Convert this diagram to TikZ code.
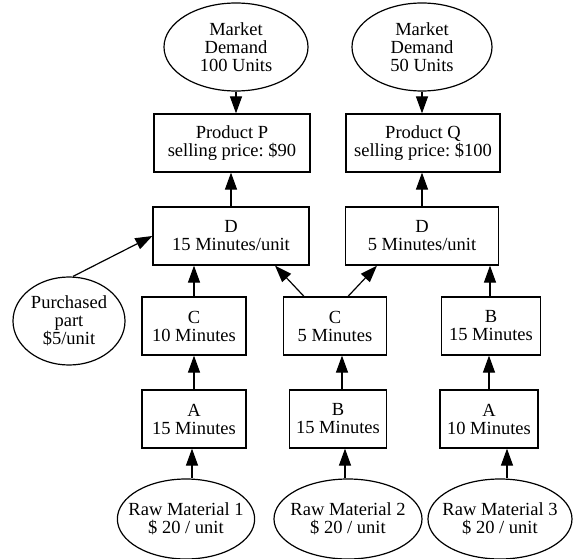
\documentclass[tikz,border=0pt]{standalone}
\usepackage{fontspec}
\setmainfont{Liberation Serif}
\usetikzlibrary{shapes.geometric,arrows.meta}
\frenchspacing
\begin{document}
\begin{tikzpicture}[x=1pt,y=-1pt,line width=1.2pt,
        font=\fontsize{18.5}{18}\selectfont,
        box/.style={draw,minimum height=58pt,align=center,inner sep=1pt},
        oval/.style={draw,ellipse,align=center,inner sep=0pt},
        rawmat/.style={oval,inner xsep=-9pt,minimum height=80pt},
        flow/.style={-{Triangle[length=17pt,width=12pt]}}]
    \useasboundingbox (0,0) rectangle (573,559);
    %% market demand
    \node[oval,minimum width=144pt,minimum height=88pt] (mdp) at (236,47) {Market\\Demand\\100 Units};
    \node[oval,minimum width=140pt,minimum height=88pt] (mdq) at (422,47) {Market\\Demand\\50 Units};
    %% products
    \node[box,minimum width=156pt] (pp) at (232,143) {Product P\\selling price: \$90};
    \node[box,minimum width=154pt] (pq) at (423,143) {Product Q\\selling price: \$100};
    %% step D
    \node[box,minimum width=156pt] (dp) at (231,236) {D\\15 Minutes/unit};
    \node[box,minimum width=153pt] (dq) at (422,236) {D\\5 Minutes/unit};
    \node[oval,minimum width=112pt,minimum height=88pt] (buy) at (69,321) {Purchased\\part\\\$5/unit};
    %% middle row
    \node[box,minimum width=104pt] (c1) at (194,326) {C\\10 Minutes};
    \node[box,minimum width=103pt] (c2) at (335,326) {C\\5 Minutes};
    \node[box,minimum width=99pt] (b2) at (491,326) {B\\15 Minutes};
    %% lower row
    \node[box,minimum width=104pt] (a1) at (194,419) {A\\15 Minutes};
    \node[box,minimum width=97pt] (b1) at (338,419) {B\\15 Minutes};
    \node[box,minimum width=98pt] (a3) at (489,419) {A\\10 Minutes};
    %% raw materials
    \node[rawmat,minimum width=136pt] (rm1) at (186,519) {Raw Material 1\\\$ 20 / unit};
    \node[rawmat,minimum width=148pt] (rm2) at (348,519) {Raw Material 2\\\$ 20 / unit};
    \node[rawmat,minimum width=144pt] (rm3) at (500,519) {Raw Material 3\\\$ 20 / unit};
    %% flows
    \draw[flow] (mdp.south) -- (mdp.south |- pp.north);
    \draw[flow] (mdq.south) -- (mdq.south |- pq.north);
    \draw[flow] (dp.north) -- (dp.north |- pp.south);
    \draw[flow] (dq.north) -- (dq.north |- pq.south);
    \draw[flow] ([xshift=4pt]buy.north) -- (dp.west);
    \draw[flow] (c1.north) -- (c1.north |- dp.south);
    \draw[flow] ([xshift=-31pt]c2.north) -- ([xshift=44pt]dp.south);
    \draw[flow] ([xshift=13pt]c2.north) -- ([xshift=-45pt]dq.south);
    \draw[flow] ([xshift=-1pt]b2.north) -- ([xshift=-1pt]b2.north |- dq.south);
    \draw[flow] (a1.north) -- (a1.north |- c1.south);
    \draw[flow] ([xshift=4pt]b1.north) -- ([xshift=4pt]b1.north |- c2.south);
    \draw[flow] (a3.north) -- (a3.north |- b2.south);
    \draw[flow] ([xshift=6pt]rm1.north) -- ([xshift=6pt]rm1.north |- a1.south);
    \draw[flow] ([xshift=-3pt]rm2.north) -- ([xshift=-3pt]rm2.north |- b1.south);
    \draw[flow] ([xshift=7pt]rm3.north) -- ([xshift=7pt]rm3.north |- a3.south);
\end{tikzpicture}
\end{document}
